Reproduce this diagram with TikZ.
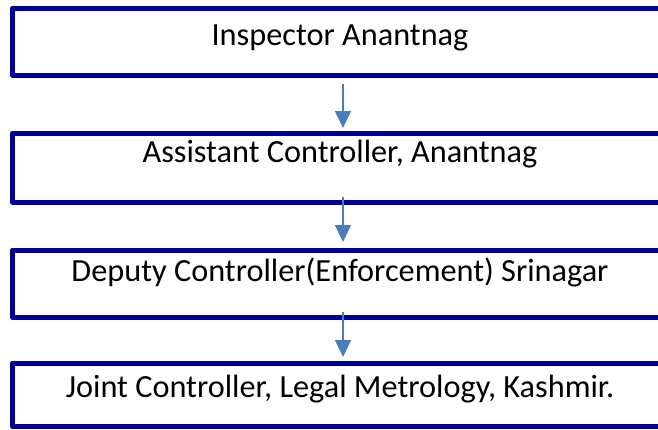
\documentclass[tikz,border=0pt]{standalone}
\usepackage{fontspec}
\setmainfont{Carlito}
\usetikzlibrary{arrows.meta}
\definecolor{boxblue}{HTML}{000099}
\definecolor{arrowblue}{HTML}{4A7EBB}
\tikzset{
  post/.style={rectangle, draw=boxblue, line width=5pt, line join=round, minimum width=655pt, inner ysep=0pt, font=\fontsize{32.3}{38}\selectfont},
  flow/.style={draw=arrowblue, line width=1.5pt, -{Triangle[length=17pt,width=16pt]}}
}
\begin{document}
\begin{tikzpicture}[x=1pt,y=-1pt]
\useasboundingbox (0,0) rectangle (658,429);

\node [post, text height=37.7pt, text depth=29.3pt] (inspector) at (340,41.5) {Inspector Anantnag};
\node [post, text height=29pt, text depth=40pt] (assistant) at (340,167.5) {Assistant Controller, Anantnag};
\node [post, text height=31pt, text depth=36.5pt] (deputy) at (340,283.75) {Deputy Controller(Enforcement) Srinagar};
\node [post, text height=34pt, text depth=29.5pt] (joint) at (340,394.75) {Joint Controller, Legal Metrology, Kashmir.};

\draw [flow, shorten <=6.5pt, shorten >=2.5pt] ([xshift=3pt]inspector.south) -- ([xshift=3pt]assistant.north);
\draw [flow, shorten <=-7.5pt, shorten >=5.5pt] ([xshift=3pt]assistant.south) -- ([xshift=3pt]deputy.north);
\draw [flow, shorten <=-8pt, shorten >=3.5pt] ([xshift=3pt]deputy.south) -- ([xshift=3pt]joint.north);
\end{tikzpicture}
\end{document}
